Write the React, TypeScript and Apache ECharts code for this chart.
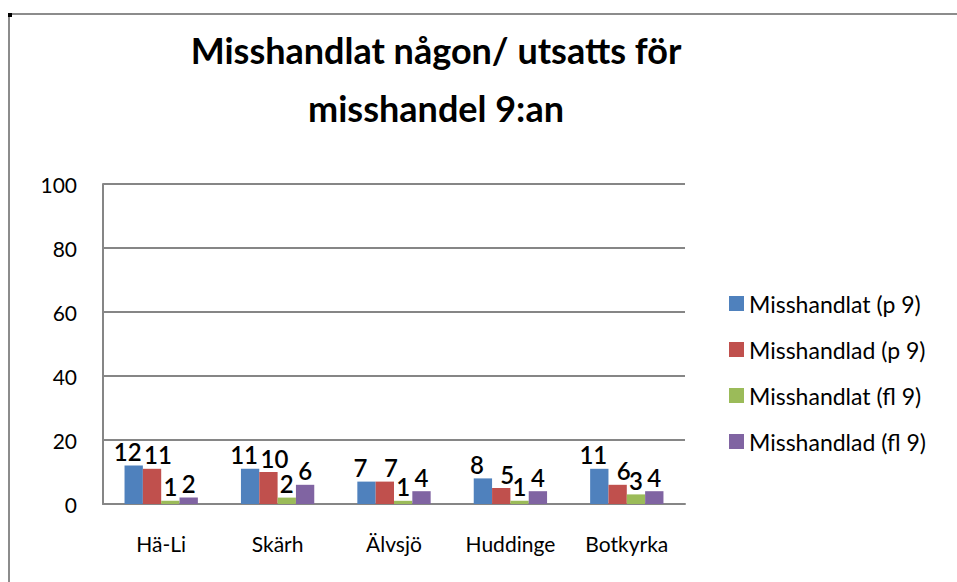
import React, { useEffect, useRef } from "react";
import * as echarts from "echarts";

const titleText = "Misshandlat någon/ utsatts för\nmisshandel 9:an";
const categories = ["Hä-Li", "Skärh", "Älvsjö", "Huddinge", "Botkyrka"];
const seriesNames = [
  "Misshandlat (p 9)",
  "Misshandlad (p 9)",
  "Misshandlat (fl 9)",
  "Misshandlad (fl 9)",
];
const misshandlatP9 = [12, 11, 7, 8, 11];
const misshandladP9 = [11, 10, 7, 5, 6];
const misshandlatFl9 = [1, 2, 1, 1, 3];
const misshandladFl9 = [2, 6, 4, 4, 4];
const seriesValues = [misshandlatP9, misshandladP9, misshandlatFl9, misshandladFl9];
const colors = ["#4F81BD", "#C0504D", "#9BBB59", "#8064A2"];
const labelShift = [-6, 6, 0, 0];
const yMin = 0;
const yMax = 100;
const yInterval = 20;

const FONT = "Lato, 'Open Sans', sans-serif";

export default function App() {
  const ref = useRef<HTMLDivElement>(null);
  useEffect(() => {
    if (!ref.current) return;
    const chart = echarts.init(ref.current, null, { renderer: "svg" });
    chart.setOption({
      animation: false,
      backgroundColor: "#ffffff",
      textStyle: { fontFamily: FONT },
      title: {
        text: titleText,
        left: 431,
        top: 16,
        textAlign: "center",
        textStyle: {
          fontFamily: FONT,
          fontSize: 36,
          fontWeight: "bold",
          color: "#000000",
          lineHeight: 58,
        },
      },
      graphic: [
        {
          type: "rect",
          shape: { x: 9, y: 14, width: 1100, height: 1000 },
          style: { fill: "none", stroke: "#8C8C8C", lineWidth: 2 },
          silent: true,
        },
        {
          type: "rect",
          shape: { x: 8, y: 13, width: 4, height: 4 },
          style: { fill: "#000000" },
          silent: true,
        },
      ],
      legend: {
        orient: "vertical",
        left: 724,
        top: 287,
        itemWidth: 15,
        itemHeight: 15,
        itemGap: 23,
        icon: "rect",
        textStyle: { fontFamily: FONT, fontSize: 23, color: "#000000" },
        data: seriesNames,
      },
      grid: { left: 103, right: 272, top: 184, bottom: 78, containLabel: false },
      xAxis: {
        type: "category",
        data: categories,
        axisLine: { show: true, lineStyle: { color: "#868686", width: 2 } },
        axisTick: { show: false },
        axisLabel: {
          interval: 0,
          fontFamily: FONT,
          fontSize: 21,
          color: "#000000",
          margin: 29,
        },
      },
      yAxis: {
        type: "value",
        min: yMin,
        max: yMax,
        interval: yInterval,
        axisLine: { show: true, lineStyle: { color: "#868686", width: 2 } },
        axisTick: { show: false },
        splitLine: { show: true, lineStyle: { color: "#868686", width: 2 } },
        axisLabel: { fontFamily: FONT, fontSize: 21, color: "#000000", margin: 26 },
      },
      series: seriesNames.map((name, i) => ({
        name,
        type: "bar",
        data: seriesValues[i],
        barGap: "0%",
        barCategoryGap: "37%",
        itemStyle: { color: colors[i] },
        label: {
          show: true,
          position: "top",
          distance: 2,
          offset: [labelShift[i], 0],
          fontFamily: FONT,
          fontSize: 24,
          fontWeight: 600,
          color: "#000000",
        },
      })),
    });
    return () => chart.dispose();
  }, []);
  return (
    <div
      ref={ref}
      style={{ position: "absolute", left: 0, top: 0, width: 957, height: 582 }}
    />
  );
}
